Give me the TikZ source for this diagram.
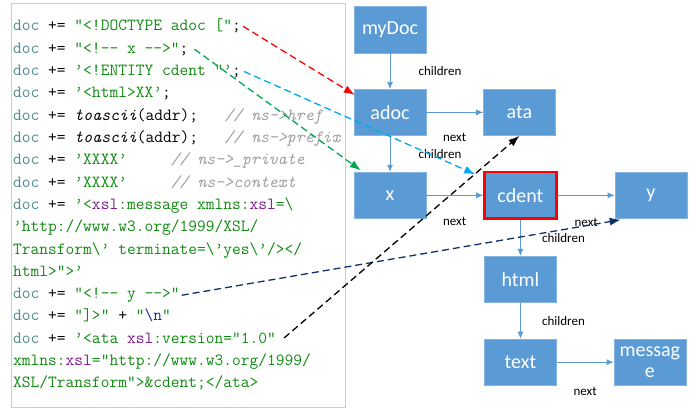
\documentclass[tikz,border=0pt]{standalone}
\usepackage{fontspec}
\newfontfamily\calibri{Carlito}
\usetikzlibrary{arrows.meta,positioning}
\definecolor{boxblue}{HTML}{5B9BD5}
\definecolor{docteal}{HTML}{4A8C8C}
\definecolor{strgreen}{HTML}{108A10}
\definecolor{xslpurple}{HTML}{7F1A8C}
\definecolor{cmtgray}{HTML}{A0A0A0}
\definecolor{nlnavy}{HTML}{1A2A8A}
\definecolor{ptrgreen}{HTML}{00A84F}
\definecolor{ptrcyan}{HTML}{00A8EC}
\definecolor{ptrnavy}{HTML}{10306A}
\newcommand{\dc}{\textcolor{docteal}{doc} += }
\newcommand{\strg}[1]{\textcolor{strgreen}{#1}}
\newcommand{\xsl}{\textcolor{xslpurple}{xsl}}
\newcommand{\cmt}[1]{\textcolor{cmtgray}{\itshape #1}}

\begin{document}
\begin{tikzpicture}[
    x=1pt,y=-1pt,
    node distance=36pt and 57pt,
    code/.style={anchor=base west,inner sep=0pt,
      font=\ttfamily\fontsize{17}{17}\selectfont},
    box/.style={draw=boxblue!75!white,fill=boxblue,text=white,
      minimum width=72pt,minimum height=46.5pt,inner sep=1pt,align=center,
      font=\calibri\fontsize{20}{21}\selectfont},
    lbl/.style={font=\calibri\fontsize{13}{13}\selectfont,inner sep=0pt},
    link/.style={-{Latex[length=7pt,width=6pt]},draw=boxblue,line width=0.8pt},
    ptr/.style={-{Latex[length=11pt,width=8pt]},dashed,
      dash pattern=on 7pt off 4pt,line width=1.3pt}]
  \useasboundingbox (0,0) rectangle (690,414);
  % code panel
  \node[draw=black!20,minimum width=334.5pt,minimum height=404.5pt,inner sep=0pt]
    (panel) at (178,205) {};
  \node[code] (l1) at (13,31) {\dc\strg{”<!DOCTYPE adoc [”};};
  \node[code] (l2) at (13,53.3) {\dc\strg{”<!-- x -->”};};
  \node[code] (l3) at (13,75.6) {\dc\strg{’<!ENTITY cdent ”’};};
  \node[code] (l4) at (13,97.9) {\dc\strg{’<html>XX’};};
  \node[code] (l5) at (13,120.2) {\dc\textit{toascii}(addr);~~~\cmt{// ns->href}};
  \node[code] (l6) at (13,142.5) {\dc\textit{toascii}(addr);~~~\cmt{// ns->prefix}};
  \node[code] (l7) at (13,164.8) {\dc\strg{’XXXX’}~~~~~\cmt{// ns->\_private}};
  \node[code] (l8) at (13,187.1) {\dc\strg{’XXXX’}~~~~~\cmt{// ns->context}};
  \node[code] (l9) at (13,209.4) {\dc\strg{’<\xsl:message xmlns:\xsl=\textbackslash}};
  \node[code] (l10) at (13,231.7) {\strg{’http://www.w3.org/1999/XSL/}};
  \node[code] (l11) at (13,254) {\strg{Transform\textbackslash’ terminate=\textbackslash’yes\textbackslash’/></}};
  \node[code] (l12) at (13,276.3) {\strg{html>”>’}};
  \node[code] (l13) at (13,298.6) {\dc\strg{”<!-- y -->”}};
  \node[code] (l14) at (13,320.9) {\dc\strg{”]>”} + \strg{”\textcolor{nlnavy}{\textbackslash n}”}};
  \node[code] (l15) at (13,343.2) {\dc\strg{’<ata \xsl:version=”1.0”}};
  \node[code] (l16) at (13,365.5) {\strg{xmlns:\xsl=”http://www.w3.org/1999/}};
  \node[code] (l17) at (13,387.8) {\strg{XSL/Transform”>\&cdent;</ata>}};
  % node tree
  \node[box] (mydoc) at (390,29.5) {myDoc};
  \node[box,below=of mydoc] (adoc) {adoc};
  \node[box,right=of adoc] (ata) {ata};
  \node[box,below=of adoc] (x) {x};
  \node[box,right=of x,draw=red,line width=2.5pt] (cdent) {cdent};
  \node[box,right=of cdent] (y) {y};
  \node[box,below=of cdent] (html) {html};
  \node[box,below=of html] (text) {text};
  \node[box,right=of text] (message) {messag\\e};
  \draw[link] (mydoc) -- node[lbl,xshift=50pt]{children} (adoc);
  \draw[link] (adoc) -- node[lbl,yshift=-25pt]{next} (ata);
  \draw[link] (adoc) -- node[lbl,xshift=50pt]{children} (x);
  \draw[link] (x) -- node[lbl,yshift=-26pt]{next} (cdent);
  \draw[link] (cdent) -- node[lbl,yshift=-27pt]{next} (y);
  \draw[link] (cdent) -- node[lbl,xshift=43pt]{children} (html);
  \draw[link] (html) -- node[lbl,xshift=43pt]{children} (text);
  \draw[link] (text) -- node[lbl,yshift=-29pt]{next} (message);
  % pointers from the code
  \draw[ptr,red] ([xshift=2pt]l1.east) -- ([xshift=1pt,yshift=-6pt]adoc.north west);
  \draw[ptr,ptrgreen] ([xshift=6pt]l2.east) -- ([xshift=7pt,yshift=1.5pt]x.north west);
  \draw[ptr,ptrcyan] ([xshift=3pt]l3.east) -- ([xshift=-8pt,yshift=-3.5pt]cdent.north west);
  \draw[ptr,ptrnavy] ([xshift=2pt]l13.east) -- ([xshift=6pt,yshift=-1pt]y.south west);
  \draw[ptr,black] ([xshift=8pt]l15.east) -- (ata.south);
\end{tikzpicture}
\end{document}
